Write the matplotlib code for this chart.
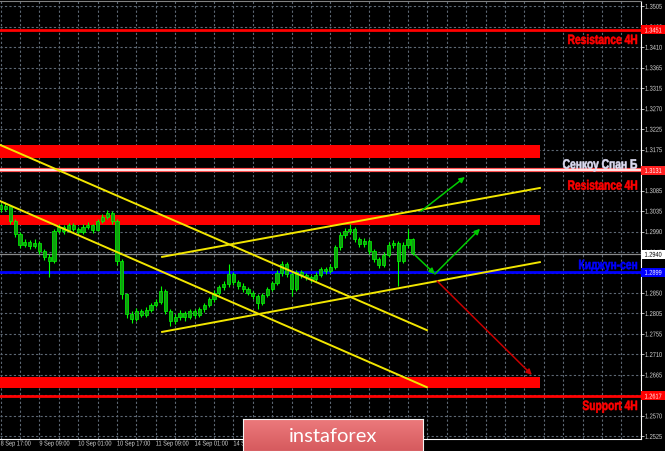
import matplotlib.pyplot as plt
import matplotlib.colors as mcolors
from matplotlib.textpath import TextPath
from matplotlib.patches import PathPatch, Rectangle
from matplotlib.font_manager import FontProperties
from matplotlib.transforms import Affine2D
import numpy as np

# hourly chart, x = bar index counted from 8 Sep 17:00 (candles sampled every 2 bars)
bar_idx = list(range(0, 172, 2))
first_open = 1.3052
closes = [1.3043, 1.3050, 1.3016, 1.2986, 1.2961, 1.2968, 1.2959, 1.2966, 1.2947, 1.2934,
          1.2925, 1.2993, 1.3002, 1.2993, 1.3007, 1.2998, 1.2991, 1.3002, 1.3007, 1.2995,
          1.3016, 1.3025, 1.3034, 1.3016, 1.2925, 1.2849, 1.2804, 1.2792, 1.2811, 1.2802,
          1.2813, 1.2824, 1.2831, 1.2856, 1.2811, 1.2788, 1.2797, 1.2806, 1.2797, 1.2811,
          1.2802, 1.2815, 1.2824, 1.2838, 1.2852, 1.2865, 1.2872, 1.2895, 1.2877, 1.2868,
          1.2861, 1.2852, 1.2845, 1.2829, 1.2847, 1.2861, 1.2874, 1.2897, 1.2918, 1.2895,
          1.2861, 1.2899, 1.2893, 1.2888, 1.2884, 1.2893, 1.2906, 1.2902, 1.2911, 1.2956,
          1.2984, 1.2993, 1.2998, 1.2975, 1.2963, 1.2970, 1.2947, 1.2929, 1.2915, 1.2938,
          1.2961, 1.2966, 1.2925, 1.2961, 1.2975, 1.2943]
highs = [1.3056, 1.3058, 1.3052, 1.3020, 1.2990, 1.2975, 1.2972, 1.2974, 1.2970, 1.2951,
         1.2940, 1.2998, 1.3009, 1.3006, 1.3012, 1.3011, 1.3003, 1.3008, 1.3013, 1.3010,
         1.3020, 1.3031, 1.3040, 1.3038, 1.3020, 1.2930, 1.2852, 1.2810, 1.2818, 1.2816,
         1.2819, 1.2830, 1.2838, 1.2868, 1.2860, 1.2815, 1.2804, 1.2812, 1.2810, 1.2816,
         1.2815, 1.2820, 1.2830, 1.2843, 1.2858, 1.2870, 1.2880, 1.2918, 1.2900, 1.2882,
         1.2874, 1.2866, 1.2857, 1.2849, 1.2852, 1.2866, 1.2880, 1.2903, 1.2925, 1.2922,
         1.2899, 1.2905, 1.2904, 1.2898, 1.2893, 1.2899, 1.2912, 1.2911, 1.2917, 1.2962,
         1.2990, 1.3000, 1.3009, 1.3003, 1.2980, 1.2977, 1.2974, 1.2951, 1.2934, 1.2944,
         1.2967, 1.2973, 1.2970, 1.2967, 1.2998, 1.2978]
lows = [1.3036, 1.3038, 1.3010, 1.2980, 1.2955, 1.2957, 1.2952, 1.2955, 1.2940, 1.2926,
        1.2888, 1.2920, 1.2988, 1.2986, 1.2990, 1.2992, 1.2984, 1.2987, 1.2997, 1.2988,
        1.2992, 1.3011, 1.3020, 1.3008, 1.2915, 1.2838, 1.2795, 1.2783, 1.2787, 1.2796,
        1.2798, 1.2808, 1.2819, 1.2826, 1.2804, 1.2776, 1.2782, 1.2790, 1.2789, 1.2792,
        1.2795, 1.2797, 1.2809, 1.2819, 1.2832, 1.2847, 1.2858, 1.2866, 1.2870, 1.2861,
        1.2854, 1.2846, 1.2837, 1.2815, 1.2824, 1.2842, 1.2856, 1.2869, 1.2891, 1.2888,
        1.2845, 1.2856, 1.2886, 1.2881, 1.2876, 1.2879, 1.2888, 1.2895, 1.2897, 1.2906,
        1.2950, 1.2978, 1.2986, 1.2968, 1.2956, 1.2957, 1.2940, 1.2922, 1.2908, 1.2911,
        1.2933, 1.2955, 1.2868, 1.2920, 1.2955, 1.2938]

xtick_bars = [0, 16, 32, 48, 64, 80, 96, 112, 128, 144, 160]
xtick_labels = ['8 Sep 17:00', '9 Sep 09:00', '10 Sep 01:00', '10 Sep 17:00', '11 Sep 09:00',
                '14 Sep 01:00', '14 Sep 17:00', '15 Sep 09:00', '16 Sep 01:00',
                '16 Sep 17:00', '17 Sep 09:00']
ytick_labels = ['1.3505', '1.3460', '1.3410', '1.3365', '1.3315', '1.3270', '1.3225', '1.3175',
                '1.3130', '1.3085', '1.3035', '1.2990', '1.2945', '1.2895', '1.2850', '1.2805',
                '1.2755', '1.2710', '1.2665', '1.2615', '1.2570', '1.2525']

resistance_top = 1.3451
senkou_b = 1.3131
bid = 1.2940
kijun = 1.2899
support = 1.2617
zones = [(1.3159, 1.3189), (1.3007, 1.3029), (1.2635, 1.2660)]

trend_lines = [((-1, 1.3191), (175.8, 1.2767)),
               ((-1, 1.3063), (175.8, 1.2637)),
               ((66.6, 1.2763), (222.4, 1.2922)),
               ((66.6, 1.2934), (222.4, 1.3091))]
green_arrows = [((173.4, 1.3038), (191.5, 1.3116)),
                ((170.9, 1.2938), (179.1, 1.2895)),
                ((179.1, 1.2895), (197.7, 1.2998))]
red_arrows = [((180.0, 1.2879), (219.1, 1.2665))]

axis_boxes = [(resistance_top, '1.3451', '#ff0000', 'white'),
              (senkou_b, '1.3131', '#ff2020', 'white'),
              (bid, '1.2940', 'white', 'black'),
              (kijun, '1.2899', '#0000ff', 'white'),
              (support, '1.2617', '#ff0000', 'white')]

level_texts = [(1.3430, 'Resistance 4H', '#ff0000'),
               (1.3146, 'Сенкоу Спан Б', '#dcdcf2'),
               (1.3098, 'Resistance 4H', '#ff0000'),
               (1.2917, 'Киджун-сен', '#0000ff'),
               (1.2596, 'Support 4H', '#ff0000')]

fig = plt.figure(figsize=(6.65, 4.52), dpi=100, facecolor='black')
ax = fig.add_axes([0, 12 / 452, 641 / 665, 438 / 452])
ax.set_facecolor('black')
ax.set_xlim(-0.25, 264.1)
ax.set_ylim(1.2519, 1.3517)


def put_text(x, y, s, size, color, sx=0.8, ha='left', bold=False, zorder=12, stroke=0):
    # x, y in figure pixels (baseline, origin bottom-left); text squeezed horizontally
    prop = FontProperties(family='Liberation Sans', weight='bold' if bold else 'normal')
    tp = TextPath((0, 0), s, size=size, prop=prop)
    w = tp.get_extents().x1 * sx
    if ha == 'right':
        x -= w
    elif ha == 'center':
        x -= w / 2
    tr = Affine2D().scale(sx, 1).translate(x, y)
    fig.add_artist(PathPatch(tp, transform=tr, facecolor=color, edgecolor=color,
                             lw=stroke, zorder=zorder))


def to_px(b, p):
    return ax.transData.transform((b, p))


# grid
grid_kw = dict(color='#5d6874', lw=0.8, ls=(0, (2, 2)), zorder=1)
for b in range(0, 265, 8):
    ax.axvline(b, **grid_kw)
ytick_pos = np.linspace(1.3505, 1.2525, 22)
for p in ytick_pos:
    ax.axhline(p, **grid_kw)

# zones and levels
for lo, hi in zones:
    ax.axhspan(lo, hi, xmin=0, xmax=540 / 641, color='#ff0000', lw=0, zorder=2)
ax.axhline(resistance_top, color='#ff0000', lw=2, zorder=3)
ax.axhline(support, color='#ff0000', lw=2, zorder=3)
ax.axhline(senkou_b, color='#ff5050', lw=3, zorder=3)
ax.axhline(senkou_b, color='white', lw=1.2, zorder=3)
ax.axhline(bid, color='#8a8a8a', lw=0.9, zorder=3)
ax.axhline(kijun, color='#0000ff', lw=2, zorder=4)

# candles
opens = [first_open] + closes[:-1]
ax.vlines(bar_idx, lows, highs, color='#00ff00', lw=0.8, zorder=5)
bottoms = [min(o, c) for o, c in zip(opens, closes)]
heights = [max(abs(c - o), 0.0003) for o, c in zip(opens, closes)]
ax.bar(bar_idx, heights, bottom=bottoms, width=1.3, color='#10a010',
       edgecolor='#00ff00', lw=0.5, zorder=6)

# trend lines
for (x0, y0), (x1, y1) in trend_lines:
    ax.plot([x0, x1], [y0, y1], color='#f2e600', lw=1.4, zorder=7)

for (x0, y0), (x1, y1) in green_arrows:
    ax.annotate('', xy=(x1, y1), xytext=(x0, y0), zorder=8,
                arrowprops=dict(arrowstyle='-|>', color='#00cc00', lw=1.1,
                                mutation_scale=8, shrinkA=0, shrinkB=0))
for (x0, y0), (x1, y1) in red_arrows:
    ax.annotate('', xy=(x1, y1), xytext=(x0, y0), zorder=8,
                arrowprops=dict(arrowstyle='-|>', color='#c80000', lw=1.1,
                                mutation_scale=8, shrinkA=0, shrinkB=0))

# axes styling
ax.spines['left'].set_visible(False)
ax.spines['top'].set_color('#808080')
ax.spines['top'].set_linewidth(0.8)
ax.spines['right'].set_color('white')
ax.spines['bottom'].set_color('white')
ax.yaxis.tick_right()
ax.set_yticks(ytick_pos)
ax.set_xticks(xtick_bars)
ax.tick_params(axis='y', colors='#d8d8d8', length=2, width=0.6, labelright=False)
ax.tick_params(axis='x', length=0, labelbottom=False)

# scale labels
for p, lab in zip(ytick_pos, ytick_labels):
    y = to_px(0, p)[1]
    put_text(645, y - 2.5, lab, 7, '#d8d8d8', sx=0.8, zorder=3)
for b, lab in zip(xtick_bars, xtick_labels):
    x = to_px(b, 0)[0]
    put_text(x, 5.5, lab, 7, '#d8d8d8', sx=0.8, zorder=3)

# price boxes on the right scale (cover the grid labels underneath)
for p, txt, fc, tc in axis_boxes:
    y = to_px(0, p)[1]
    fig.add_artist(Rectangle((641, y - 4.5), 24, 9, transform=None,
                             facecolor=fc, edgecolor=fc, lw=0, zorder=12))
    put_text(653, y - 2.5, txt, 7, tc, sx=0.8, ha='center', zorder=13)

# level captions
for p, txt, col in level_texts:
    y = to_px(0, p)[1]
    put_text(637, y - 4.8, txt, 13.5, col, sx=0.76, ha='right', bold=True,
             zorder=14, stroke=0.4)

# watermark
wax = fig.add_axes([243 / 665, 0, 180 / 665, 32 / 452], zorder=20)
grad = np.linspace(0, 1, 50).reshape(-1, 1)
cmap = mcolors.LinearSegmentedColormap.from_list('wm', ['#ec7a7c', '#d65a5e'])
wax.imshow(grad, aspect='auto', cmap=cmap, extent=[0, 1, 0, 1])
wax.set_xticks([])
wax.set_yticks([])
for s in wax.spines.values():
    s.set_color('#f4f4f4')
    s.set_linewidth(0.8)
wax.text(0.5, 0.48, 'instaforex', ha='center', va='center', color='white',
         fontsize=14.5, family=['Lato', 'DejaVu Sans'], transform=wax.transAxes)

fig.savefig('out.png', dpi=100, facecolor='black')
